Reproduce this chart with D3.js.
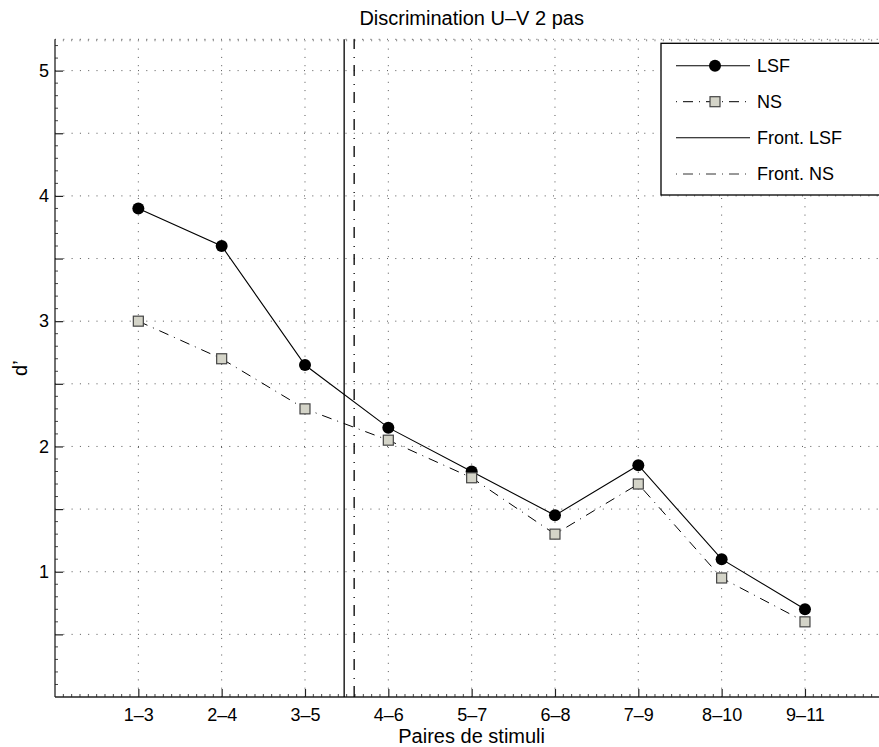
<!DOCTYPE html>
<html>
<head>
<meta charset="utf-8">
<script src="https://cdn.jsdelivr.net/npm/d3@7"></script>
<style>
  html, body { margin: 0; padding: 0; background: #fff; }
  svg { display: block; }
  text { font-family: "Liberation Sans", Arial, Helvetica, sans-serif; fill: #000; }
</style>
</head>
<body>
<svg id="chart" width="879" height="747"></svg>
<script>
// ---- data ----
const categories = ["1\u20133", "2\u20134", "3\u20135", "4\u20136", "5\u20137", "6\u20138", "7\u20139", "8\u201310", "9\u201311"];
const lsfValues = [3.9, 3.6, 2.65, 2.15, 1.8, 1.45, 1.85, 1.1, 0.7];
const nsValues  = [3.0, 2.7, 2.3, 2.05, 1.75, 1.3, 1.7, 0.95, 0.6];
const frontLSF = 3.47;
const frontNS = 3.59;
const yTicks = [0.5, 1, 1.5, 2, 2.5, 3, 3.5, 4, 4.5, 5];
const yTickLabels = ["", "1", "", "2", "", "3", "", "4", "", "5"];
const legendLabels = ["LSF", "NS", "Front. LSF", "Front. NS"];
const titleText = "Discrimination U\u2013V 2 pas";
const xLabelText = "Paires de stimuli";
const yLabelText = "d\u2019";

// ---- layout ----
const svg = d3.select("#chart");
const pLeft = 55, pRight = 888.3, pTop = 39.3, pBottom = 697;
const x = d3.scaleLinear().domain([0, 10]).range([pLeft, pRight]);
const y = d3.scaleLinear().domain([0, 5.25]).range([pBottom, pTop]);
const xIdx = categories.map((c, i) => i + 1);

const gridColor = "#555";
const gridDash = "1,7.3";

// grid
const g = svg.append("g");
g.selectAll(".xg").data(xIdx).enter().append("line")
  .attr("x1", d => x(d)).attr("x2", d => x(d))
  .attr("y1", pBottom).attr("y2", pTop)
  .attr("stroke", gridColor).attr("stroke-width", 1).attr("stroke-dasharray", gridDash);
g.selectAll(".yg").data(yTicks).enter().append("line")
  .attr("x1", pLeft).attr("x2", pRight)
  .attr("y1", d => y(d)).attr("y2", d => y(d))
  .attr("stroke", gridColor).attr("stroke-width", 1).attr("stroke-dasharray", gridDash);
// top box line (dotted)
g.append("line").attr("x1", pLeft).attr("x2", pRight).attr("y1", pTop).attr("y2", pTop)
  .attr("stroke", gridColor).attr("stroke-width", 1).attr("stroke-dasharray", gridDash);

// minor ticks
const xMinor = d3.range(0, 100).map(i => i / 10).filter(v => Math.abs(v - Math.round(v)) > 1e-6);
const yMinor = d3.range(0, 53).map(i => i / 10).filter(v => Math.abs(v * 2 - Math.round(v * 2)) > 1e-6 && v <= 5.25);
g.selectAll(".xm").data(xMinor).enter().append("line")
  .attr("x1", d => x(d)).attr("x2", d => x(d)).attr("y1", pBottom).attr("y2", pBottom - 3)
  .attr("stroke", "#444").attr("stroke-width", 1);
g.selectAll(".xmt").data(xMinor).enter().append("line")
  .attr("x1", d => x(d)).attr("x2", d => x(d)).attr("y1", pTop).attr("y2", pTop + 2)
  .attr("stroke", "#888").attr("stroke-width", 1);
g.selectAll(".ym").data(yMinor).enter().append("line")
  .attr("x1", pLeft).attr("x2", pLeft + 3).attr("y1", d => y(d)).attr("y2", d => y(d))
  .attr("stroke", "#444").attr("stroke-width", 1);

// axes
const xAxis = d3.axisBottom(x).tickValues(xIdx).tickFormat((d, i) => categories[i]).tickSizeInner(-8).tickSizeOuter(0).tickPadding(14);
const yAxis = d3.axisLeft(y).tickValues(yTicks).tickFormat((d, i) => yTickLabels[i]).tickSizeInner(-8).tickSizeOuter(0).tickPadding(14);
const gx = svg.append("g").attr("transform", `translate(0,${pBottom})`).call(xAxis);
const gy = svg.append("g").attr("transform", `translate(${pLeft},0)`).call(yAxis);
[gx, gy].forEach(a => {
  a.select(".domain").attr("stroke", "#222").attr("stroke-width", 1.3);
  a.selectAll(".tick line").attr("stroke", "#222").attr("stroke-width", 1.2);
  a.selectAll(".tick text").style("font-size", "18px").style("font-family", '"Liberation Sans", Arial, sans-serif');
});
gx.select(".domain").attr("d", `M${pLeft},0H${pRight}`);
gy.select(".domain").attr("d", `M0,${pBottom}V${pTop}`);
gx.selectAll(".tick text").attr("dy", "0.71em").attr("y", 11);
gy.selectAll(".tick text").attr("x", -6);

// front lines
svg.append("line").attr("x1", x(frontLSF)).attr("x2", x(frontLSF)).attr("y1", pBottom).attr("y2", pTop)
  .attr("stroke", "#000").attr("stroke-width", 1.3);
svg.append("line").attr("x1", x(frontNS)).attr("x2", x(frontNS)).attr("y1", pBottom).attr("y2", pTop)
  .attr("stroke", "#000").attr("stroke-width", 1.3).attr("stroke-dasharray", "11,7,1,8");

// series lines
const line = d3.line().x((d, i) => x(i + 1)).y(d => y(d));
svg.append("path").datum(nsValues).attr("d", line).attr("fill", "none")
  .attr("stroke", "#000").attr("stroke-width", 1).attr("stroke-dasharray", "10,6,1,6");
svg.append("path").datum(lsfValues).attr("d", line).attr("fill", "none")
  .attr("stroke", "#000").attr("stroke-width", 1.1);

// markers
svg.selectAll(".lsf").data(lsfValues).enter().append("circle")
  .attr("cx", (d, i) => x(i + 1)).attr("cy", d => y(d)).attr("r", 6).attr("fill", "#000");
svg.selectAll(".ns").data(nsValues).enter().append("rect")
  .attr("x", (d, i) => x(i + 1) - 5).attr("y", d => y(d) - 5).attr("width", 10).attr("height", 10)
  .attr("fill", "#d4d4c8").attr("stroke", "#444").attr("stroke-width", 1.2);

// title and labels
svg.append("text").attr("x", (pLeft + pRight) / 2).attr("y", 25).attr("text-anchor", "middle")
  .style("font-size", "20px").text(titleText);
svg.append("text").attr("x", (pLeft + pRight) / 2).attr("y", 743).attr("text-anchor", "middle")
  .style("font-size", "20px").text(xLabelText);
svg.append("text").attr("transform", `translate(27,${(pTop + pBottom) / 2}) rotate(-90)`).attr("text-anchor", "middle")
  .style("font-size", "20px").text(yLabelText);

// legend
const lg = svg.append("g");
lg.append("rect").attr("x", 661).attr("y", 43.3).attr("width", 240).attr("height", 151.7)
  .attr("fill", "#fff").attr("stroke", "#000").attr("stroke-width", 1.3);
const rowsY = [65.7, 101.7, 137.7, 174];
const lx1 = 676, lx2 = 750, lmx = 715, ltx = 757;
// LSF
lg.append("line").attr("x1", lx1).attr("x2", lx2).attr("y1", rowsY[0]).attr("y2", rowsY[0]).attr("stroke", "#000").attr("stroke-width", 1.1);
lg.append("circle").attr("cx", lmx).attr("cy", rowsY[0]).attr("r", 6).attr("fill", "#000");
// NS
lg.append("line").attr("x1", lx1).attr("x2", lx2).attr("y1", rowsY[1]).attr("y2", rowsY[1]).attr("stroke", "#000").attr("stroke-width", 1).attr("stroke-dasharray", "1,6,10,6");
lg.append("rect").attr("x", lmx - 5).attr("y", rowsY[1] - 5).attr("width", 10).attr("height", 10)
  .attr("fill", "#d4d4c8").attr("stroke", "#444").attr("stroke-width", 1.2);
// Front LSF
lg.append("line").attr("x1", lx1).attr("x2", lx2).attr("y1", rowsY[2]).attr("y2", rowsY[2]).attr("stroke", "#000").attr("stroke-width", 1.1);
// Front NS
lg.append("line").attr("x1", lx1).attr("x2", lx2).attr("y1", rowsY[3]).attr("y2", rowsY[3]).attr("stroke", "#333").attr("stroke-width", 1).attr("stroke-dasharray", "1,6,10,6");
lg.selectAll(".lt").data(legendLabels).enter().append("text")
  .attr("x", ltx).attr("y", (d, i) => rowsY[i]).attr("dy", "0.35em")
  .style("font-size", "18px").text(d => d);
</script>
</body>
</html>
